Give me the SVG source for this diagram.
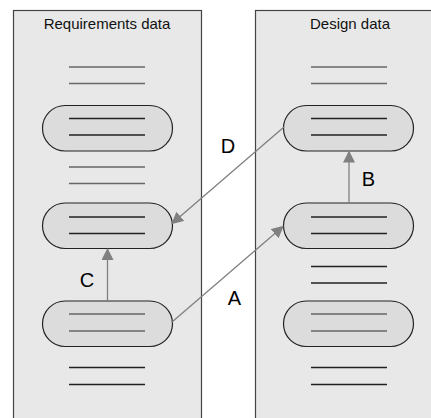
<svg xmlns="http://www.w3.org/2000/svg" width="431" height="418" viewBox="0 0 431 418">
  <defs>
    <marker id="arrow" viewBox="0 0 12 12" refX="11" refY="6" markerWidth="12" markerHeight="12" markerUnits="userSpaceOnUse" orient="auto">
      <path d="M0,0 L12,6 L0,12 Z" fill="#808080"/>
    </marker>
  </defs>
  <style>
    .panel { fill: #e8e8e8; stroke: #444; stroke-width: 1.2; }
    .title { font-family: "Liberation Sans", Arial, sans-serif; font-size: 15px; fill: #111; text-anchor: middle; }
    .pill { fill: #dcdcdc; stroke: #222; stroke-width: 1.2; }
    .ln-g { stroke: #666; stroke-width: 1.3; }
    .ln-k { stroke: #222; stroke-width: 1.3; }
    .conn { stroke: #808080; stroke-width: 1.3; fill: none; marker-end: url(#arrow); }
    .lbl { font-family: "Liberation Sans", Arial, sans-serif; font-size: 20px; fill: #000; text-anchor: middle; }
  </style>

  <!-- Requirements panel -->
  <g id="requirements">
    <rect class="panel" x="13.5" y="10.5" width="188" height="420"/>
    <text class="title" x="107" y="28.5">Requirements data</text>
    <line class="ln-g" x1="69" y1="67" x2="145" y2="67"/>
    <line class="ln-g" x1="69" y1="83.5" x2="145" y2="83.5"/>
    <line class="ln-g" x1="69" y1="167" x2="145" y2="167"/>
    <line class="ln-g" x1="69" y1="183.5" x2="145" y2="183.5"/>
    <line class="ln-k" x1="69" y1="367.5" x2="145" y2="367.5"/>
    <line class="ln-k" x1="69" y1="384.5" x2="145" y2="384.5"/>
  </g>
  <g id="req-item-1">
    <rect class="pill" x="42.5" y="105.5" width="130" height="45.5" rx="22.75"/>
    <line class="ln-k" x1="69" y1="118.5" x2="145" y2="118.5"/>
    <line class="ln-k" x1="69" y1="135" x2="145" y2="135"/>
  </g>
  <g id="req-item-2">
    <rect class="pill" x="42.5" y="203" width="130" height="45.5" rx="22.75"/>
    <line class="ln-k" x1="69" y1="217" x2="145" y2="217"/>
    <line class="ln-k" x1="69" y1="233.5" x2="145" y2="233.5"/>
  </g>
  <g id="req-item-3">
    <rect class="pill" x="42.5" y="301" width="130" height="45.5" rx="22.75"/>
    <line class="ln-g" x1="69" y1="314" x2="145" y2="314"/>
    <line class="ln-g" x1="69" y1="331" x2="145" y2="331"/>
  </g>

  <!-- Design panel -->
  <g id="design">
    <rect class="panel" x="255.5" y="10.5" width="188" height="420"/>
    <text class="title" x="350" y="28.5">Design data</text>
    <line class="ln-g" x1="311" y1="67" x2="387" y2="67"/>
    <line class="ln-g" x1="311" y1="83.5" x2="387" y2="83.5"/>
    <line class="ln-k" x1="311" y1="266.5" x2="387" y2="266.5"/>
    <line class="ln-k" x1="311" y1="283" x2="387" y2="283"/>
    <line class="ln-k" x1="311" y1="367.5" x2="387" y2="367.5"/>
    <line class="ln-k" x1="311" y1="384.5" x2="387" y2="384.5"/>
  </g>
  <g id="des-item-1">
    <rect class="pill" x="283.5" y="105.5" width="130" height="45.5" rx="22.75"/>
    <line class="ln-k" x1="311" y1="118.5" x2="387" y2="118.5"/>
    <line class="ln-k" x1="311" y1="135" x2="387" y2="135"/>
  </g>
  <g id="des-item-2">
    <rect class="pill" x="283.5" y="203" width="130" height="45.5" rx="22.75"/>
    <line class="ln-k" x1="311" y1="217" x2="387" y2="217"/>
    <line class="ln-k" x1="311" y1="233.5" x2="387" y2="233.5"/>
  </g>
  <g id="des-item-3">
    <rect class="pill" x="283.5" y="301" width="130" height="45.5" rx="22.75"/>
    <line class="ln-g" x1="311" y1="314" x2="387" y2="314"/>
    <line class="ln-g" x1="311" y1="331" x2="387" y2="331"/>
  </g>

  <!-- Trace links -->
  <g id="connectors">
    <line class="conn" x1="107.5" y1="301" x2="107.5" y2="249"/>
    <line class="conn" x1="349" y1="203" x2="349" y2="151.5"/>
    <line class="conn" x1="172" y1="322" x2="283" y2="226.5"/>
    <line class="conn" x1="284" y1="127" x2="172" y2="223.5"/>
    <text class="lbl" x="87" y="287">C</text>
    <text class="lbl" x="368.5" y="186">B</text>
    <text class="lbl" x="234.5" y="305">A</text>
    <text class="lbl" x="228" y="153">D</text>
  </g>
</svg>
